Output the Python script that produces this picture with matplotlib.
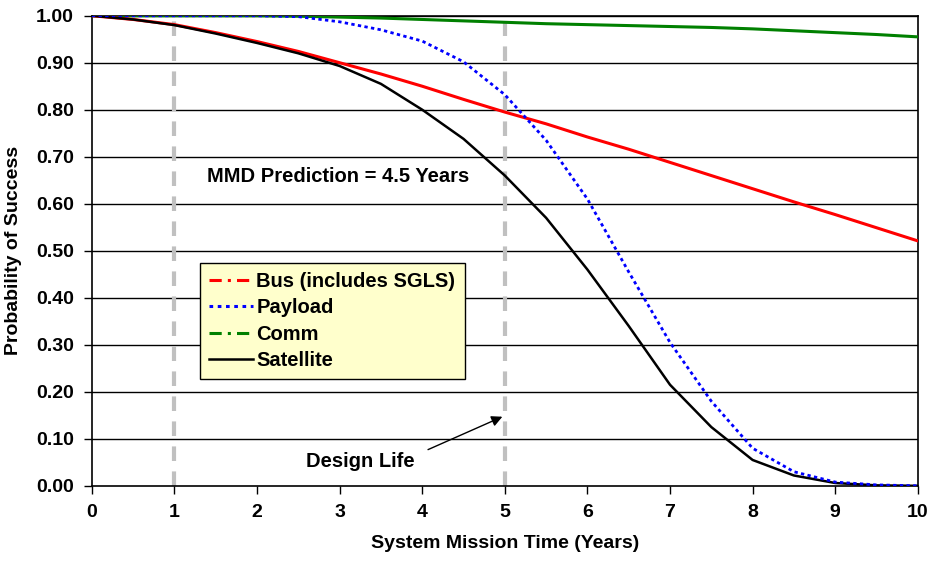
import matplotlib.pyplot as plt

plt.rcParams["font.family"] = ["Liberation Sans", "DejaVu Sans"]
plt.rcParams["font.weight"] = "bold"

# mission time (years)
years = [0, 0.5, 1, 1.5, 2, 2.5, 3, 3.5, 4, 4.5, 5, 5.5, 6, 6.5, 7, 7.5, 8, 8.5, 9, 9.5, 10]

bus = [1.0, 0.992, 0.981, 0.964, 0.945, 0.924, 0.900, 0.876, 0.850, 0.822, 0.795,
       0.770, 0.742, 0.716, 0.688, 0.660, 0.632, 0.604, 0.577, 0.549, 0.521]
payload = [1.0, 1.0, 1.0, 1.0, 1.0, 0.998, 0.987, 0.970, 0.946, 0.902, 0.832,
           0.735, 0.610, 0.455, 0.305, 0.180, 0.080, 0.030, 0.008, 0.002, 0.0]
comm = [1.0, 1.0, 1.0, 1.0, 1.0, 0.999, 0.997, 0.995, 0.992, 0.989, 0.986,
        0.983, 0.981, 0.979, 0.977, 0.975, 0.972, 0.968, 0.964, 0.960, 0.955]
satellite = [1.0, 0.992, 0.980, 0.962, 0.942, 0.920, 0.893, 0.855, 0.800, 0.738, 0.660,
             0.570, 0.460, 0.340, 0.215, 0.125, 0.055, 0.022, 0.006, 0.001, 0.0]

design_life = 5
ref_year = 1

fig = plt.figure(figsize=(9.28, 5.61), dpi=100)
ax = fig.add_axes([0.099, 0.134, 0.890, 0.838])

for yv in [0.1 * i for i in range(1, 11)]:
    ax.axhline(yv, color="black", lw=1.0, zorder=1)

ax.axvline(ref_year, color="#c0c0c0", lw=3, ls=(0, (3.5, 2.5)), zorder=2)
ax.axvline(design_life, color="#c0c0c0", lw=3, ls=(0, (3.5, 2.5)), zorder=2)

ax.plot(years, comm, color="#008000", lw=2.2, zorder=3)
ax.plot(years, bus, color="#ff0000", lw=2.2, zorder=3)
ax.plot(years, satellite, color="black", lw=1.8, zorder=4)
ax.plot(years, payload, color="#0000ff", lw=2.0, ls=(0, (1.2, 1.2)), zorder=5)

# legend handles (dash-dot style as in the original)
h_bus, = ax.plot([], [], color="#ff0000", lw=2.2, ls=(0, (4, 2, 1, 2)))
h_pay, = ax.plot([], [], color="#0000ff", lw=2.2, ls=(0, (1.2, 1.5)))
h_com, = ax.plot([], [], color="#008000", lw=2.2, ls=(0, (4, 2, 1, 2)))
h_sat, = ax.plot([], [], color="black", lw=1.8)
leg = ax.legend([h_bus, h_pay, h_com, h_sat],
                ["Bus (includes SGLS)", "Payload", "Comm", "Satellite"],
                loc="upper left", bbox_to_anchor=(0.131, 0.474),
                fancybox=False, framealpha=1, facecolor="#ffffcc",
                edgecolor="black", fontsize=14.5, handlelength=2.2,
                handletextpad=0.15, labelspacing=0.36, borderpad=0.45,
                borderaxespad=0)
leg.get_frame().set_linewidth(1.0)
leg.set_zorder(6)

ax.text(1.39, 0.657, "MMD Prediction = 4.5 Years", fontsize=14.5, fontweight="bold",
        va="center", ha="left")
ax.text(3.91, 0.051, "Design Life", fontsize=14.5, fontweight="bold",
        va="center", ha="right")
ax.annotate("", xy=(4.97, 0.147), xytext=(4.07, 0.077),
            arrowprops=dict(arrowstyle="-|>", color="black", lw=1.0,
                            mutation_scale=16, shrinkA=0, shrinkB=0))

ax.set_xlim(0, 10)
ax.set_ylim(0, 1.0)
ax.set_xticks(range(0, 11))
ax.set_yticks([0.1 * i for i in range(0, 11)])
ax.set_yticklabels([f"{0.1 * i:.2f}" for i in range(0, 11)])
ax.tick_params(direction="out", length=6, width=1, labelsize=14, pad=7)
for lab in ax.get_xticklabels() + ax.get_yticklabels():
    lab.set_fontweight("bold")
for sp in ax.spines.values():
    sp.set_linewidth(1.2)

ax.set_xlabel("System Mission Time (Years)", fontsize=14, fontweight="bold", labelpad=10)
ax.set_ylabel("Probability of Success", fontsize=14, fontweight="bold", labelpad=10)

fig.savefig("out.png", dpi=100)
